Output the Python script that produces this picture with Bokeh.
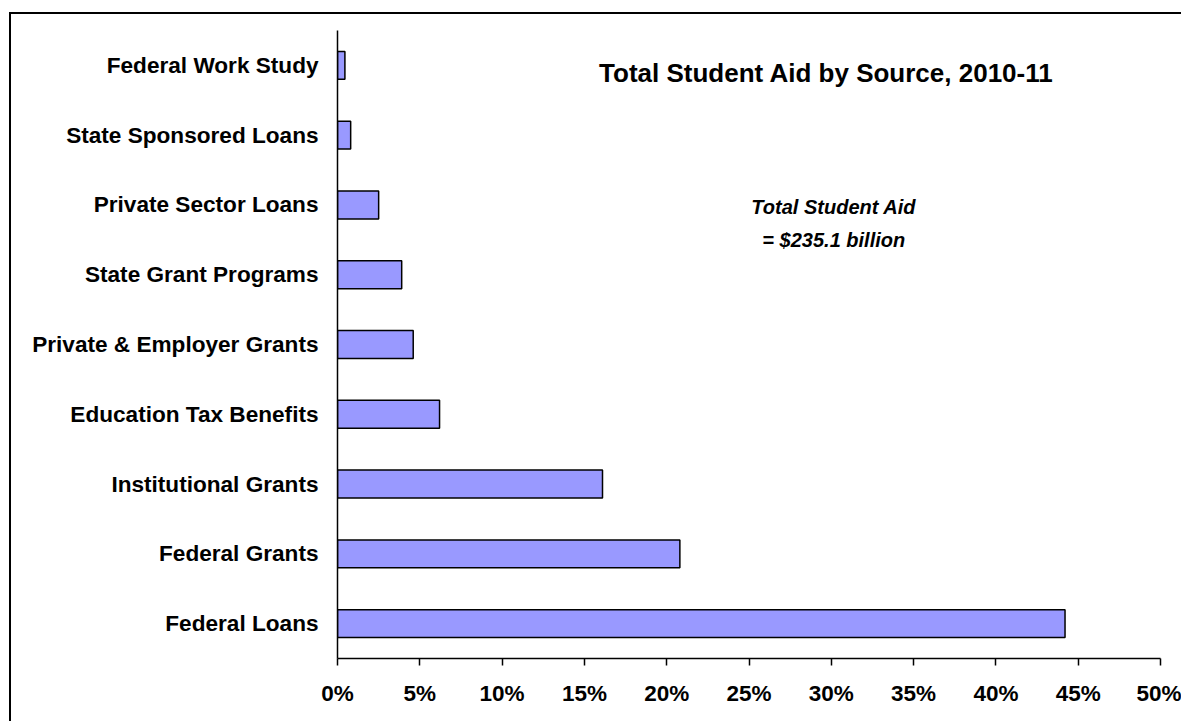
from bokeh.plotting import figure
from bokeh.models import FactorRange, Range1d, Label, FixedTicker, CustomJSTickFormatter
from bokeh.embed import file_html
from bokeh.resources import INLINE

# Data (bottom to top)
categories = [
    "Federal Loans",
    "Federal Grants",
    "Institutional Grants",
    "Education Tax Benefits",
    "Private & Employer Grants",
    "State Grant Programs",
    "Private Sector Loans",
    "State Sponsored Loans",
    "Federal Work Study",
]
shares = [44.2, 20.8, 16.1, 6.2, 4.6, 3.9, 2.5, 0.8, 0.45]
x_ticks = [0, 5, 10, 15, 20, 25, 30, 35, 40, 45, 50]
title_text = "Total Student Aid by Source, 2010-11"
note_lines = ["Total Student Aid", "= $235.1 billion"]

FONT = "Liberation Sans"

p = figure(
    width=1181, height=721,
    y_range=FactorRange(factors=categories, range_padding=0),
    x_range=Range1d(0, 50),
    output_backend="svg", toolbar_location=None,
    min_border_left=337, min_border_right=21, min_border_top=30, min_border_bottom=63,
)
p.outline_line_color = None
p.background_fill_color = "white"
p.border_fill_color = "white"
p.xgrid.visible = False
p.ygrid.visible = False

p.hbar(y=categories, right=shares, height=0.4, left=0,
       fill_color="#9999FF", line_color="black", line_width=1.5)

# x axis
p.xaxis.ticker = FixedTicker(ticks=x_ticks)
p.xaxis.formatter = CustomJSTickFormatter(code="return tick + '%';")
p.xaxis.axis_line_color = "black"
p.xaxis.axis_line_width = 1.5
p.xaxis.major_tick_line_color = "black"
p.xaxis.major_tick_line_width = 1.5
p.xaxis.major_tick_out = 7
p.xaxis.major_tick_in = 0
p.xaxis.minor_tick_line_color = None
p.xaxis.major_label_text_font = FONT
p.xaxis.major_label_text_font_style = "bold"
p.xaxis.major_label_text_font_size = "22.5px"
p.xaxis.major_label_text_color = "black"
p.xaxis.major_label_standoff = 15

# y axis
p.yaxis.axis_line_color = "black"
p.yaxis.axis_line_width = 1.5
p.yaxis.major_tick_line_color = None
p.yaxis.major_tick_out = 0
p.yaxis.major_tick_in = 0
p.yaxis.minor_tick_line_color = None
p.yaxis.major_label_text_font = FONT
p.yaxis.major_label_text_font_style = "bold"
p.yaxis.major_label_text_font_size = "22.6px"
p.yaxis.major_label_text_color = "black"
p.yaxis.major_label_standoff = 19

# title and note
p.add_layout(Label(x=29.7, y=8.384, text=title_text, text_font=FONT,
                   text_font_style="bold", text_font_size="26px",
                   text_align="center", text_baseline="middle", text_color="black"))
for txt, yy in zip(note_lines, [6.464, 5.991]):
    p.add_layout(Label(x=30.15, y=yy, text=txt, text_font=FONT,
                       text_font_style="bold italic", text_font_size="20px",
                       text_align="center", text_baseline="middle", text_color="black"))

# outer chart border (left and top edges of the chart area box)
p.stylesheets = [
    ":host::after { content: ''; position: absolute; left: 9px; top: 12px; "
    "right: 0; bottom: 0; border-left: 2.5px solid black; "
    "border-top: 2.5px solid black; pointer-events: none; box-sizing: border-box; }"
]

open("out.html", "w").write(file_html(p, INLINE))
